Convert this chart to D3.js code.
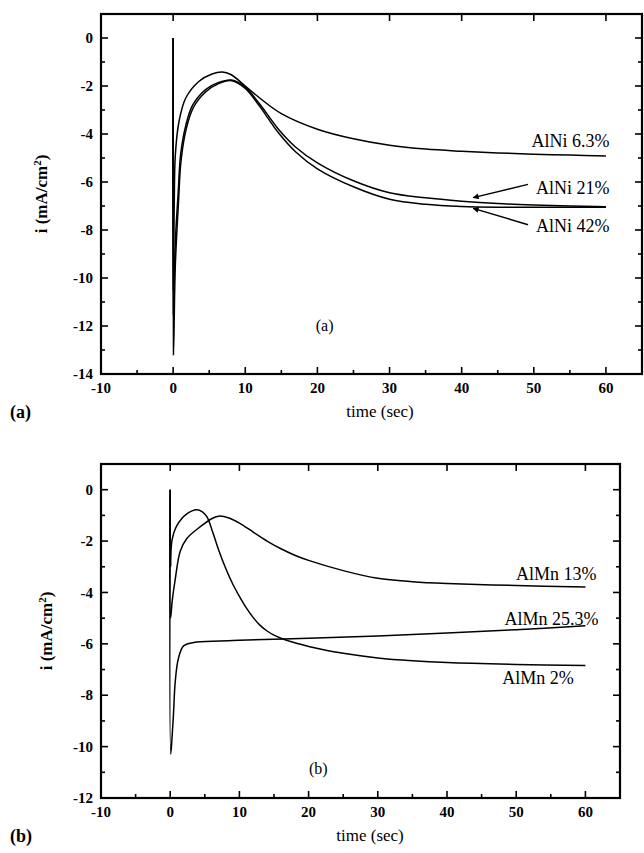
<!DOCTYPE html>
<html>
<head>
<meta charset="utf-8">
<script src="https://cdn.jsdelivr.net/npm/d3@7"></script>
<style>
  html, body { margin: 0; padding: 0; background: #fff; }
  svg { display: block; }
</style>
</head>
<body>
<svg id="chart" width="644" height="853" font-family="'Liberation Serif', 'Times New Roman', 'DejaVu Serif', serif"></svg>
<script>
// ---------- data ----------
const timeTicks = [-10, 0, 10, 20, 30, 40, 50, 60];
const timeMinorTicks = [-5, 5, 15, 25, 35, 45, 55];
const yTicksA = [0, -2, -4, -6, -8, -10, -12, -14];
const yTicksB = [0, -2, -4, -6, -8, -10, -12];

// Panel (a): AlNi alloys  [time (s), i (mA/cm2)]
const alNi63 = [[0,0],[0.03,-10.5],[0.15,-7],[0.3,-4.9],[0.8,-3.5],[1.75,-2.5],[3.6,-1.8],[5.4,-1.5],[6.8,-1.42],[8,-1.52],[10,-2.0],[12,-2.5],[15,-3.15],[20,-3.8],[25,-4.2],[30,-4.47],[35,-4.63],[40,-4.72],[45,-4.79],[50,-4.84],[55,-4.88],[60,-4.92]];
const alNi21 = [[0,0],[0.04,-11.5],[0.3,-8.5],[0.69,-6.5],[1.06,-4.8],[1.75,-3.65],[2.7,-2.8],[4.5,-2.15],[6.3,-1.85],[8.1,-1.75],[10,-2.05],[12,-2.75],[14.6,-3.8],[17,-4.55],[20,-5.2],[25,-5.95],[30,-6.45],[35,-6.66],[40,-6.8],[45,-6.9],[50,-6.96],[55,-7.0],[60,-7.03]];
const alNi42 = [[0,0],[0.05,-13.2],[0.3,-9.5],[0.75,-6.8],[1.1,-5.1],[1.8,-3.8],[2.8,-2.9],[4.5,-2.25],[6.3,-1.9],[8.1,-1.78],[10,-2.1],[12,-2.85],[14.6,-3.95],[17,-4.75],[20,-5.45],[25,-6.2],[30,-6.72],[35,-6.93],[40,-7.02],[45,-7.05],[50,-7.05],[55,-7.05],[60,-7.05]];

// Panel (b): AlMn alloys
const alMn2 = [[0,0],[0.05,-3.0],[0.24,-2.0],[0.96,-1.4],[2.4,-0.94],[3.85,-0.78],[4.6,-0.85],[5.3,-1.05],[6.2,-1.7],[7,-2.35],[8,-3.05],[9,-3.65],[10,-4.15],[11,-4.6],[12,-4.98],[13,-5.28],[14,-5.5],[15,-5.66],[16,-5.78],[18,-5.96],[20,-6.1],[22,-6.22],[25,-6.37],[30,-6.55],[35,-6.66],[40,-6.73],[50,-6.8],[60,-6.84]];
const alMn13 = [[0,0],[0.05,-5.0],[0.3,-4.3],[0.72,-3.5],[1.45,-2.4],[2.4,-1.9],[4.3,-1.45],[6.2,-1.1],[7,-1.03],[8.5,-1.1],[10,-1.3],[12,-1.65],[14,-2.0],[16,-2.3],[18,-2.55],[20,-2.75],[25,-3.15],[30,-3.45],[35,-3.58],[40,-3.65],[50,-3.73],[60,-3.79]];
const alMn253 = [[0,0],[0.08,-10.3],[0.3,-9.5],[0.48,-8.7],[0.72,-7.5],[1.16,-6.6],[1.93,-6.08],[3.4,-5.95],[7.2,-5.89],[10,-5.86],[20,-5.78],[30,-5.69],[40,-5.58],[50,-5.45],[60,-5.3]];

// labels: [time, current, text, anchor]
const labelsA = [[60.5,-4.55,"AlNi 6.3%","end"],[60.5,-6.48,"AlNi 21%","end"],[60.5,-8.1,"AlNi 42%","end"]];
const arrowsA = [[49.2,-6.1,41.6,-6.65],[49.2,-7.78,41.6,-7.1]];
const labelsB = [[61.6,-3.52,"AlMn 13%","end"],[61.9,-5.27,"AlMn 25.3%","end"],[48,-7.58,"AlMn 2%","start"]];

// ---------- drawing ----------
const svg = d3.select("#chart");
svg.append("rect").attr("width",644).attr("height",853).attr("fill","#fff");

svg.append("defs").append("marker")
  .attr("id","arrow").attr("viewBox","0 0 10 10").attr("refX",9).attr("refY",5)
  .attr("markerWidth",10).attr("markerHeight",6).attr("markerUnits","userSpaceOnUse")
  .attr("orient","auto")
  .append("path").attr("d","M0,0 L10,5 L0,10 Z").attr("fill","#000");

function panel(cfg) {
  const x = d3.scaleLinear().domain([-10, 65]).range(cfg.xr);
  const y = d3.scaleLinear().domain(cfg.yd).range(cfg.yr);
  const g = svg.append("g");
  const [x0, x1] = cfg.xr, [y1, y0] = cfg.yr;

  const tk = (x1a, y1a, x2a, y2a) => g.append("line").attr("x1",x1a).attr("y1",y1a).attr("x2",x2a).attr("y2",y2a)
      .attr("stroke","#000").attr("stroke-width",1.6);
  timeTicks.forEach(t => { tk(x(t), y1, x(t), y1-7); tk(x(t), y0, x(t), y0+7); });
  timeMinorTicks.forEach(t => { tk(x(t), y1, x(t), y1-4); });
  cfg.yTicks.forEach(v => { tk(x0, y(v), x0+7, y(v)); tk(x1, y(v), x1-7, y(v)); });
  d3.range(cfg.yd[0]+1, 0, 2).forEach(v => { tk(x0, y(v), x0+4, y(v)); tk(x1, y(v), x1-4, y(v)); });

  g.append("rect").attr("x",x0).attr("y",y0).attr("width",x1-x0).attr("height",y1-y0)
    .attr("fill","none").attr("stroke","#000").attr("stroke-width",2.2);

  g.selectAll(".xl").data(timeTicks).join("text")
    .attr("x", d => x(d)).attr("y", y1 + 19).attr("text-anchor","middle")
    .attr("font-size",15).attr("font-weight","bold").text(d => d);
  g.selectAll(".yl").data(cfg.yTicks).join("text")
    .attr("x", x0 - 8).attr("y", d => y(d)).attr("dy","0.35em").attr("text-anchor","end")
    .attr("font-size",15).attr("font-weight","bold").text(d => d);

  g.append("text").attr("x", cfg.xtx).attr("y", y1 + 43).attr("text-anchor","middle")
    .attr("font-size",17).text("time (sec)");
  const yl = g.append("text").attr("transform",`translate(${cfg.ytx},${(y0+y1)/2}) rotate(-90)`)
    .attr("text-anchor","middle").attr("font-size",17).attr("font-weight","bold");
  yl.append("tspan").text("i (mA/cm");
  yl.append("tspan").attr("dy",-6).attr("font-size",11).text("2");
  yl.append("tspan").attr("dy",6).text(")");

  g.append("text").attr("x", 10).attr("y", y1 + 44).attr("font-size",18).attr("font-weight","bold").text(cfg.tag);
  g.append("text").attr("x", x(cfg.tagPos[0])).attr("y", y(cfg.tagPos[1])).attr("text-anchor","middle")
    .attr("font-size",16).text(cfg.tag);

  const line = d3.line().x(d => x(d[0])).y(d => y(d[1])).curve(d3.curveCatmullRom.alpha(0.5));
  cfg.series.forEach(s => g.append("path").datum(s).attr("d", line)
    .attr("fill","none").attr("stroke","#000").attr("stroke-width",1.5));

  cfg.labels.forEach(l => g.append("text").attr("x", x(l[0])).attr("y", y(l[1]))
    .attr("text-anchor", l[3]).attr("font-size",18).text(l[2]));
  (cfg.arrows || []).forEach(a => g.append("line")
    .attr("x1", x(a[0])).attr("y1", y(a[1])).attr("x2", x(a[2])).attr("y2", y(a[3]))
    .attr("stroke","#000").attr("stroke-width",1.4).attr("marker-end","url(#arrow)"));
}

panel({
  xr: [101, 642], yd: [-14, 1], yr: [374, 14], yTicks: yTicksA,
  xtx: 380, ytx: 47, tag: "(a)", tagPos: [21, -12.2],
  series: [alNi63, alNi21, alNi42], labels: labelsA, arrows: arrowsA
});
panel({
  xr: [101, 620], yd: [-12, 1], yr: [798, 464], yTicks: yTicksB,
  xtx: 370, ytx: 52, tag: "(b)", tagPos: [21.4, -11.05],
  series: [alMn2, alMn13, alMn253], labels: labelsB
});
</script>
</body>
</html>
